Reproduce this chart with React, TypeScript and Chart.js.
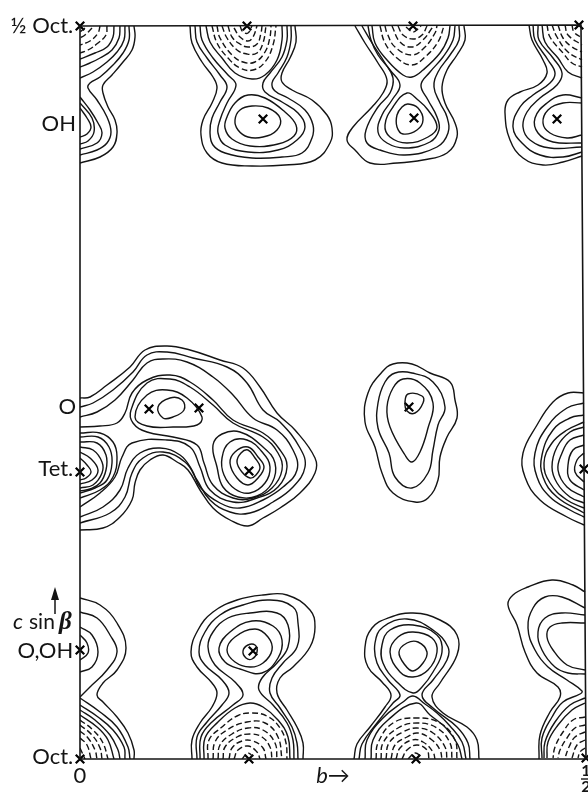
import React, { useEffect, useRef } from "react";
import { Chart, registerables } from "chart.js";

Chart.register(...registerables);

// Units: b axis 0..506 = 0..1/2 cell, c sin beta axis 0..734 = 0..1/2 cell (digitised steps).
const xTickValues = [0, 506];
const xTickLabels: (string | string[])[] = ["0", ["1", "2"]];
const yTickValues = [2, 108, 290, 352, 635, 733];
const yTickLabels = ["Oct.\u2009", "O,OH\u2009", "Tet.\u2009", "O", "OH", "½ Oct.\u2009"];

const frameLine = [0, 0, 0, 733, 501, 734, 506, 0, 0, 0];

const atomSites = [
  0, 733, 167, 733, 333, 733, 499, 734, 183, 640, 334, 641, 477, 640,
  69, 350, 119, 351, 169, 288, 0, 287, 329, 352, 504, 290,
  0, 0, 169, 0, 336, 0, 506, 1, 0, 109, 173, 108,
];

const topLeftSolid = [
  [54,733,55,722,52,709,43,697,32,684,23,674,23,666,28,652,35,639,37,626,33,612,20,602,0,596],
  [49,733,49,719,43,706,33,694,20,682,10,676,8,671,17,659,27,642,31,627,27,616,17,609,0,604],
  [45,733,44,719,37,707,27,697,13,687,0,681],
  [40,733,39,721,32,709,20,701,10,696,0,692],
  [34,733,33,722,27,712,15,706,0,700],
  [0,662,10,649,18,636,22,626,17,616,0,610],
  [0,656,12,641,14,627,8,618,0,615],
  [0,651,7,641,11,632,7,625,0,622],
];
const topLeftDashed = [
  [27,733,26,724,18,716,8,709,0,706],
  [20,733,18,726,10,718,0,714],
  [12,731,5,724,0,721],
  [5,731,0,727],
];

const topSecondSolid = [
  [110,733,112,716,122,697,133,682,137,671,132,656,123,639,121,624,127,606,142,596,172,593,205,594,235,599,250,616,252,631,247,644,232,659,212,669,202,677,202,686,210,701,216,717,215,733],
  [115,733,117,717,127,701,140,684,147,672,140,657,132,641,130,627,133,614,145,606,172,601,202,602,222,606,232,621,233,634,225,649,208,661,195,668,192,676,198,686,207,702,211,719,211,733],
  [120,733,122,719,133,701,148,684,156,674,147,656,140,639,138,626,145,614,168,607,198,609,217,619,225,632,218,646,202,657,185,667,183,676,190,686,202,702,207,719,207,733],
  [168,664,185,661,205,647,216,634,214,623,198,615,170,613,152,620,145,631,147,642,155,656,168,664],
  [155,639,160,649,172,653,188,651,200,641,197,629,183,622,168,622,158,629,155,639],
  [126,733,130,717,142,701,155,686,172,680,185,684,197,699,202,719,202,733],
];
const topSecondDashed = [
  [132,733,137,716,148,701,160,691,173,689,185,697,193,714,196,733],
  [137,733,140,721,152,704,163,697,175,697,185,707,190,722,191,733],
  [142,733,147,721,157,709,167,705,177,706,183,716,186,733],
  [148,733,152,722,160,715,168,712,177,715,181,726,182,733],
  [154,731,160,722,168,718,173,722,177,733],
  [160,733,163,727,168,726,172,733],
];

const topThirdSolid = [
  [384,733,385,719,377,704,367,689,362,672,365,656,375,636,377,622,367,606,343,599,317,596,290,596,275,609,267,619,273,632,292,652,303,666,307,679,298,696,285,716,275,733],
  [379,733,379,719,370,704,358,687,354,672,360,656,367,642,368,626,357,612,325,604,300,609,287,616,286,629,298,652,310,666,313,681,305,696,292,716,282,733],
  [375,733,373,719,363,702,350,687,341,674,348,659,357,642,359,629,350,617,325,611,307,616,298,627,302,644,312,659,320,674,310,689,298,704,291,719,288,733],
  [292,733,295,716,307,699,323,684,332,682,343,689,360,706,368,721,370,733],
  [327,666,338,659,348,649,357,632,348,622,327,616,310,622,305,634,313,652,327,666],
  [328,655,338,651,343,639,337,629,323,625,317,632,317,644,322,652,328,655],
];
const topThirdDashed = [
  [300,733,305,716,317,701,332,694,345,702,358,717,364,733],
  [305,733,307,726,315,712,332,704,345,712,355,726,357,733],
  [312,733,320,717,332,712,343,719,352,731,353,733],
  [318,733,323,724,333,720,342,724,347,733],
  [326,732,333,727,339,731,341,733],
];

const topRightSolid = [
  [449,734,452,719,463,699,467,686,458,674,440,667,428,659,425,646,430,619,443,601,463,594,483,597,502,603],
  [453,734,455,719,468,699,475,686,470,676,453,664,440,652,433,632,442,616,460,604,483,602,502,607],
  [458,734,459,719,473,701,482,686,477,674,460,661,447,647,443,632,450,619,470,611,502,612],
  [462,734,465,717,478,701,488,687,502,681],
  [502,661,483,664,467,656,455,641,458,626,473,617,502,616],
  [502,656,483,656,468,649,463,636,470,626,487,621,502,624],
];
const topRightDashed = [
  [467,734,470,722,483,706,492,696,502,692],
  [472,734,477,722,488,707,502,699],
  [478,734,483,721,492,712,502,707],
  [485,734,488,724,502,714],
  [492,734,494,727,502,721],
];

const middleLeftSolid = [
  [0,361,10,362,27,374,50,392,65,409,87,413,110,409,140,399,163,391,180,372,197,346,215,329,235,301,235,286,220,266,200,251,183,241,168,233,150,239,133,251,120,269,108,289,97,297,83,304,70,299,60,289,55,276,52,259,40,242,23,231,0,229],
  [0,352,13,356,33,369,53,387,67,404,87,407,113,401,147,392,167,376,183,349,200,337,220,311,225,292,213,272,193,257,170,246,150,247,130,259,117,279,105,297,83,307,63,301,52,286,45,262,30,246,0,236],
  [0,342,17,347,35,359,53,379,67,396,83,400,107,397,133,382,153,364,173,341,197,329,213,309,217,289,203,272,183,259,160,251,140,256,120,272,112,289,100,304,80,311,60,306,48,291,40,269,23,252,0,242],
  [0,332,20,333,37,336,45,346,52,366,67,379,90,384,110,377,133,359,153,339,183,326,200,309,207,292,198,272,177,261,153,257,130,269,120,292,110,312,87,319,52,316,42,302,35,282,20,266,0,252],
  [51,349,67,376,90,380,110,372,133,354,153,336,183,322,198,306,202,289,192,271,173,261,153,261,133,274,124,296,117,314,93,322,67,327,53,336,51,349],
  [55,342,67,364,87,369,107,361,122,342,117,334,93,332,67,333,55,342],
  [78,352,90,361,102,359,104,349,93,342,83,341,78,352],
  [133,314,142,325,160,327,183,312,195,296,192,276,177,263,158,262,143,272,137,292,133,314],
  [142,301,150,317,167,319,183,306,190,292,185,276,170,266,155,270,144,284,142,301],
  [150,296,155,307,168,312,178,302,184,292,178,281,168,274,157,281,150,296],
  [157,297,161,306,168,309,175,301,180,292,176,284,170,281,162,287,157,297],
  [0,326,20,326,33,317,37,302,33,282,20,269,0,261],
  [0,322,18,322,29,312,32,296,27,279,15,271,0,266],
  [0,317,17,316,26,304,26,289,20,276,10,270,0,268],
  [0,312,13,309,22,297,22,286,13,274,0,271],
  [0,307,10,301,18,289,12,279,0,275],
  [0,301,7,294,11,287,6,281,0,279],
];

const middleRightSolid = [
  [313,395,332,395,350,386,370,377,375,359,377,341,367,322,360,302,358,279,348,261,335,257,313,266,302,286,295,312,285,337,288,366,302,387,313,395],
  [315,386,332,386,353,377,365,352,358,334,353,309,348,286,332,271,315,282,309,306,298,331,298,356,305,377,315,386],
  [323,380,340,376,353,356,348,331,340,307,332,297,325,304,310,332,307,352,313,371,323,380],
  [328,365,342,363,343,356,335,346,327,348,325,357,328,365],
  [504,366,488,366,473,357,457,334,443,306,445,282,460,259,487,242,504,234],
  [504,356,487,351,467,332,455,306,457,282,470,262,490,249,504,242],
  [504,344,490,341,473,329,462,304,463,282,477,262,504,246],
  [504,337,487,329,472,316,464,296,470,276,487,259,504,251],
  [504,332,490,327,477,312,472,292,477,276,490,262,504,256],
  [504,324,490,319,482,306,478,289,487,272,504,262],
  [504,314,493,309,488,294,490,279,504,269],
  [504,306,497,299,495,287,504,277],
];

const bottomLeftSolid = [
  [0,161,20,154,37,136,46,111,37,89,23,76,17,64,23,57,37,42,48,26,54,9,54,0],
  [0,147,17,141,30,124,37,107,27,89,10,72,2,64,0,62],
  [0,132,12,124,18,107,12,92,0,87],
  [0,124,7,116,8,106,0,99],
  [0,61,20,47,37,32,48,12,50,0],
  [0,54,18,42,33,29,44,12,45,0],
  [0,49,15,39,30,24,38,9,40,0],
  [0,44,17,32,28,19,34,0],
];
const bottomLeftDashed = [
  [0,39,13,29,23,16,28,0],
  [0,34,12,24,20,11,22,0],
  [0,28,8,21,15,9,17,0],
  [0,21,7,14,11,0],
  [0,11,5,0],
];

const bottomSecondSolid = [
  [112,0,112,19,120,36,132,52,137,66,132,76,117,92,111,107,118,129,133,147,157,159,183,164,207,164,230,149,235,132,230,112,213,92,200,81,197,66,207,49,217,32,223,16,223,0],
  [117,0,117,22,127,37,142,54,149,66,142,79,125,94,119,107,125,127,140,144,163,154,190,159,213,152,218,136,217,112,203,96,192,81,190,66,200,51,212,32,217,16,218,0],
  [120,0,121,22,132,37,153,54,163,64,155,77,135,94,128,112,133,127,148,141,170,146,197,146,208,134,208,112,197,96,182,81,179,69,193,54,207,36,213,19,214,0],
  [124,0,125,21,138,37,155,51,170,56,183,52,198,39,208,22,210,0],
  [139,111,150,127,172,138,193,133,202,119,198,101,182,86,160,90,145,97,139,111],
  [147,109,155,122,175,130,188,122,192,109,183,96,170,92,155,97,147,109],
  [163,108,168,114,175,114,177,107,172,100,166,101,163,108],
];
const bottomSecondDashed = [
  [128,0,129,19,142,32,157,43,170,46,187,43,200,31,206,16,207,0],
  [133,0,135,17,147,29,167,37,185,36,198,22,202,0],
  [138,0,140,14,152,25,168,31,183,29,195,16,197,0],
  [143,0,145,12,157,22,170,25,182,22,190,12,192,0],
  [149,0,152,11,162,18,173,18,183,11,186,0],
  [154,0,158,9,168,13,177,7,180,0],
  [162,0,168,6,175,0],
];

const bottomThirdSolid = [
  [274,0,277,15,290,32,305,52,311,64,302,77,288,92,285,112,292,131,308,141,333,146,360,139,377,124,377,104,360,76,352,62,363,46,387,32,397,19,399,0],
  [279,0,282,15,297,36,313,56,320,64,308,79,297,96,295,116,303,132,327,140,353,129,368,112,367,99,353,79,342,64,353,51,377,32,388,16,390,0],
  [285,0,287,19,303,41,323,57,333,63,345,55,357,46,370,33,382,17,386,0],
  [291,0,293,19,308,39,336,56,350,44,366,31,378,14,382,0],
  [333,66,317,77,303,96,302,114,310,129,333,134,357,124,362,107,353,87,342,72,333,66],
  [310,107,318,122,333,127,352,121,357,107,348,89,333,82,320,87,310,107],
  [319,107,327,116,338,117,347,107,343,96,333,88,325,94,319,107],
];
const bottomThirdDashed = [
  [296,0,298,16,313,36,337,41,360,36,375,19,377,0],
  [301,0,303,16,318,31,337,36,357,31,370,16,372,0],
  [306,0,309,16,323,27,337,31,353,26,365,12,367,0],
  [311,0,315,14,327,22,338,26,352,19,360,9,362,0],
  [316,0,320,11,332,19,343,17,353,7,355,0],
  [322,0,327,9,337,14,347,9,349,0],
  [328,0,335,6,342,2],
];

const bottomRightSolid = [
  [505,167,493,174,472,179,448,172,433,164,428,154,437,134,445,107,457,86,478,72,480,62,470,47,460,24,459,0],
  [505,151,482,162,465,162,453,151,448,131,455,109,468,92,487,79,502,68,500,65,483,57,472,42,462,21,462,1],
  [505,144,482,146,465,141,458,127,462,109,475,92,488,86,505,85],
  [505,136,482,136,470,132,467,122,473,109,487,94,505,89],
  [505,61,490,54,475,37,465,17,464,1],
  [505,56,492,49,478,34,468,17,467,1],
];
const bottomRightDashed = [
  [505,42,493,39,483,27,475,12,473,1],
  [505,34,495,31,487,21,480,9,478,1],
  [505,27,495,22,489,12,485,1],
  [505,19,497,14,492,1],
  [505,11,500,7,498,1],
];

const solidContours = [
  ...topLeftSolid, ...topSecondSolid, ...topThirdSolid, ...topRightSolid,
  ...middleLeftSolid, ...middleRightSolid,
  ...bottomLeftSolid, ...bottomSecondSolid, ...bottomThirdSolid, ...bottomRightSolid,
];
const dashedContours = [
  ...topLeftDashed, ...topSecondDashed, ...topThirdDashed, ...topRightDashed,
  ...bottomLeftDashed, ...bottomSecondDashed, ...bottomThirdDashed, ...bottomRightDashed,
];

const INK = "#141414";
const FONT = "Lato";

const toPoints = (flat: number[]) => {
  const pts: { x: number; y: number }[] = [];
  for (let i = 0; i < flat.length; i += 2) pts.push({ x: flat[i], y: flat[i + 1] });
  return pts;
};

// A closed contour gets one hidden extra point at each end, so the spline has no corner where it joins.
const contourSet = (flat: number[], dash: number[]) => {
  const pts = toPoints(flat);
  const n = pts.length;
  const closed = n > 3 && pts[0].x === pts[n - 1].x && pts[0].y === pts[n - 1].y;
  const data = closed ? [pts[n - 2], ...pts, pts[1]] : pts;
  return {
    data,
    showLine: true,
    borderColor: INK,
    borderWidth: 1.4,
    borderDash: dash,
    tension: 0.42,
    pointRadius: 0,
    fill: false,
    segment: closed
      ? {
          borderColor: (c: any) =>
            c.p0DataIndex === 0 || c.p1DataIndex === data.length - 1 ? "rgba(0,0,0,0)" : undefined,
        }
      : undefined,
  };
};

const annotations = {
  id: "annotations",
  afterDatasetsDraw(chart: any) {
    const { ctx, scales } = chart;
    const px = (v: number) => scales.x.getPixelForValue(v);
    const py = (v: number) => scales.y.getPixelForValue(v);
    ctx.save();
    ctx.fillStyle = INK;
    ctx.strokeStyle = INK;
    ctx.textBaseline = "alphabetic";
    ctx.textAlign = "left";
    ctx.font = `italic 22px ${FONT}`;
    ctx.fillText("c", px(-67), py(130));
    ctx.font = `21px ${FONT}`;
    ctx.fillText("sin", px(-51), py(130));
    ctx.font = `italic bold 25px "Liberation Serif"`;
    ctx.fillText("β", px(-21), py(130));
    ctx.lineWidth = 1.5;
    ctx.beginPath();
    ctx.moveTo(px(-25), py(145));
    ctx.lineTo(px(-25), py(165));
    ctx.stroke();
    ctx.beginPath();
    ctx.moveTo(px(-25), py(172));
    ctx.lineTo(px(-29), py(159));
    ctx.lineTo(px(-21), py(159));
    ctx.closePath();
    ctx.fill();
    // fraction bar of the 1/2 tick label
    ctx.lineWidth = 1.4;
    ctx.beginPath();
    ctx.moveTo(px(501), 779);
    ctx.lineTo(588, 779);
    ctx.stroke();
    ctx.restore();
  },
};

export default function App() {
  const ref = useRef<HTMLCanvasElement | null>(null);
  useEffect(() => {
    document.body.style.margin = "0";
    const chart = new Chart(ref.current as HTMLCanvasElement, {
      type: "scatter",
      data: {
        datasets: [
          ...solidContours.map((c) => contourSet(c, [])),
          ...dashedContours.map((c) => contourSet(c, [6, 3])),
          {
            data: toPoints(frameLine),
            showLine: true,
            borderColor: INK,
            borderWidth: 1.6,
            pointRadius: 0,
            clip: false,
          },
          {
            data: toPoints(atomSites),
            showLine: false,
            pointStyle: "crossRot",
            pointRadius: 6,
            pointBorderWidth: 2.2,
            pointBorderColor: "#000",
            clip: false,
          },
        ] as any,
      },
      options: {
        responsive: false,
        animation: false,
        layout: { autoPadding: false, padding: { top: 25, right: 2, left: 0, bottom: 0 } },
        plugins: { legend: { display: false }, tooltip: { enabled: false } },
        events: [],
        scales: {
          x: {
            type: "linear",
            min: 0,
            max: 506,
            border: { display: false },
            grid: { display: false, drawTicks: false },
            title: {
              display: true,
              text: "b→",
              color: INK,
              font: { family: FONT, size: 22, style: "italic" },
              padding: { top: 0, bottom: 3 },
            },
            afterBuildTicks: (s: any) => {
              s.ticks = xTickValues.map((value) => ({ value }));
            },
            afterFit: (s: any) => {
              s.height = 33;
              s.paddingLeft = 0;
              s.paddingRight = 0;
            },
            ticks: {
              autoSkip: false,
              maxRotation: 0,
              padding: 4,
              color: INK,
              font: (c: any) =>
                c.index === 1
                  ? { family: FONT, size: 16, lineHeight: 1.0, weight: "bold" }
                  : { family: FONT, size: 22, lineHeight: 1.2 },
              callback: (_v: any, i: number) => xTickLabels[i],
            },
          },
          y: {
            type: "linear",
            min: 0,
            max: 734,
            border: { display: false },
            grid: { display: false, drawTicks: false },
            afterBuildTicks: (s: any) => {
              s.ticks = yTickValues.map((value) => ({ value }));
            },
            afterFit: (s: any) => {
              s.width = 80;
              s.paddingTop = 0;
              s.paddingBottom = 0;
            },
            ticks: {
              autoSkip: false,
              padding: 4,
              color: INK,
              font: { family: FONT, size: 22 },
              callback: (_v: any, i: number) => yTickLabels[i],
            },
          },
        },
      } as any,
      plugins: [annotations],
    });
    return () => chart.destroy();
  }, []);
  return <canvas ref={ref} width={588} height={792} style={{ display: "block" }} />;
}
